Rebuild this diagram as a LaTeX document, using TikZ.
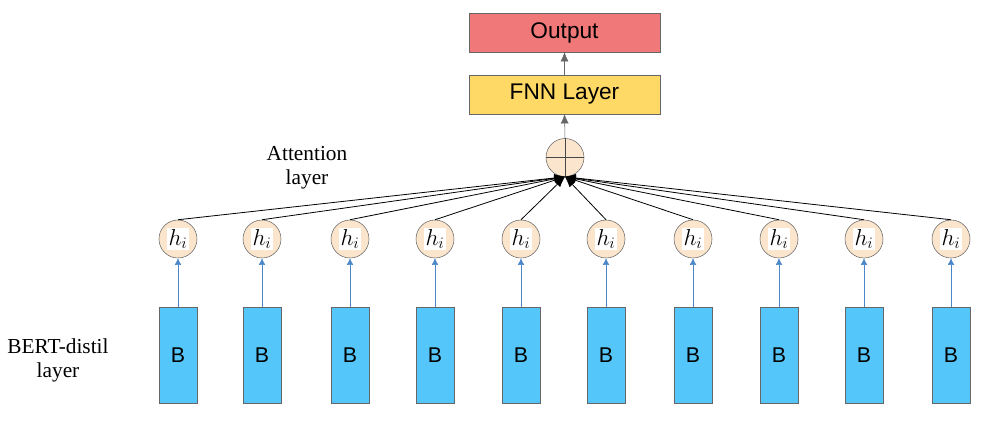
\documentclass[tikz,border=0pt]{standalone}
\usepackage{fontspec}
\setmainfont{Liberation Serif}
\newfontfamily\arialfont{Liberation Sans}
\usepackage{xcolor}
\usepackage{tikz}
\usetikzlibrary{arrows.meta,positioning}

\definecolor{outred}{HTML}{F07878}
\definecolor{fnnyellow}{HTML}{FFD966}
\definecolor{bertblue}{HTML}{55C6FA}
\definecolor{hpeach}{HTML}{FCE5CD}
\definecolor{arrblue}{HTML}{4A86C8}
\definecolor{edgegray}{HTML}{666666}

\begin{document}
\begin{tikzpicture}[x=0.75pt,y=-0.75pt,
	topbox/.style={draw=edgegray,minimum width=143pt,minimum height=29pt,inner sep=0pt,font=\arialfont\fontsize{17}{19}\selectfont},
	hnode/.style={circle,draw=edgegray,fill=hpeach,minimum size=28.5pt,inner sep=0pt},
	bertbox/.style={draw=edgegray,fill=bertblue,minimum width=28.5pt,minimum height=72pt,inner sep=0pt,font=\arialfont\fontsize{16}{17}\selectfont},
	sidelabel/.style={align=center,font=\fontsize{16}{18}\selectfont}]
	\useasboundingbox (0,0) rectangle (996,440);
	\setlength{\fboxsep}{1pt}
	% top of the network
	\node[topbox,fill=outred] (out) at (564.5,32.5) {Output};
	\node[topbox,fill=fnnyellow] (fnn) at (564.5,94.5) {FNN Layer};
	\node[hnode] (plus) at (565,157.5) {};
	\draw[edgegray!70!black] (plus.north) -- (plus.south) (plus.west) -- (plus.east);
	\draw[-{Latex[length=7pt,width=6pt]},edgegray] (plus.north) -- (fnn.south);
	\draw[-{Latex[length=7pt,width=6pt]},edgegray] (fnn.north) -- (out.south);
	% BERT blocks and hidden states
	\foreach \i/\x in {1/178,2/262,3/350,4/435,5/521,6/606,7/693,8/779,9/864,10/951}{
		\node[bertbox] (b\i) at (\x,355) {B};
		\node[hnode] (h\i) at (\x,239) {\colorbox{white}{\fontsize{17}{17}\selectfont$h_i$}};
		\draw[-{Latex[length=5pt,width=5pt]},arrblue] (b\i.north) -- (h\i.south);
		\draw[-{Latex[length=8pt,width=6pt]},line width=0.6pt] (h\i.north) -- (plus.south);
	}
	\node[sidelabel] (attn) at (307,168) {Attention\\layer};
	\node[sidelabel] (bert) at (58,360) {BERT-distil\\layer};
\end{tikzpicture}
\end{document}
